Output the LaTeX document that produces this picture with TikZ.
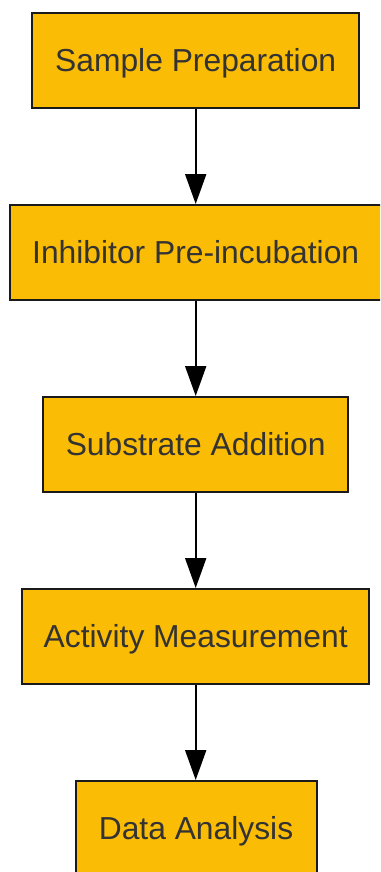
\documentclass[tikz,border=0pt]{standalone}
\usepackage{fontspec}
\setmainfont{Liberation Sans}
\usetikzlibrary{arrows.meta}
\definecolor{boxfill}{HTML}{FBBC05}
\definecolor{txtcol}{HTML}{333333}
\definecolor{edgecol}{HTML}{1A1A1A}
\begin{document}
\begin{tikzpicture}[x=1pt,y=-1pt,
  stagebox/.style={draw=edgecol, line width=2pt, fill=boxfill, text=txtcol,
    font=\fontsize{31.8}{38}\selectfont, minimum height=95pt, inner sep=0pt,
    text height=22.8pt, text depth=0pt},
  flowarrow/.style={line width=2pt, draw=black, -{Triangle[length=30pt,width=21pt]}}]
\useasboundingbox (0,0) rectangle (380,872);
\clip (0,0) rectangle (380,872);
\node[stagebox, minimum width=327pt] (b1) at (195.7,60.5) {Sample Preparation};
\node[stagebox, minimum width=378pt] (b2) at (199,252.5) {\hspace*{-6.6pt}Inhibitor Pre-incubation};
\node[stagebox, minimum width=305pt] (b3) at (195.7,444.5) {Substrate Addition};
\node[stagebox, minimum width=347pt] (b4) at (195.7,636.5) {Activity Measurement};
\node[stagebox, minimum width=241pt] (b5) at (196,828.5) {Data Analysis};
\draw[flowarrow] (b1.south -| 195.7,0) -- (b2.north -| 195.7,0);
\draw[flowarrow] (b2.south -| 195.7,0) -- (b3.north -| 195.7,0);
\draw[flowarrow] (b3) -- (b4);
\draw[flowarrow] (b4.south -| 195.7,0) -- (b5.north -| 195.7,0);
\end{tikzpicture}
\end{document}
